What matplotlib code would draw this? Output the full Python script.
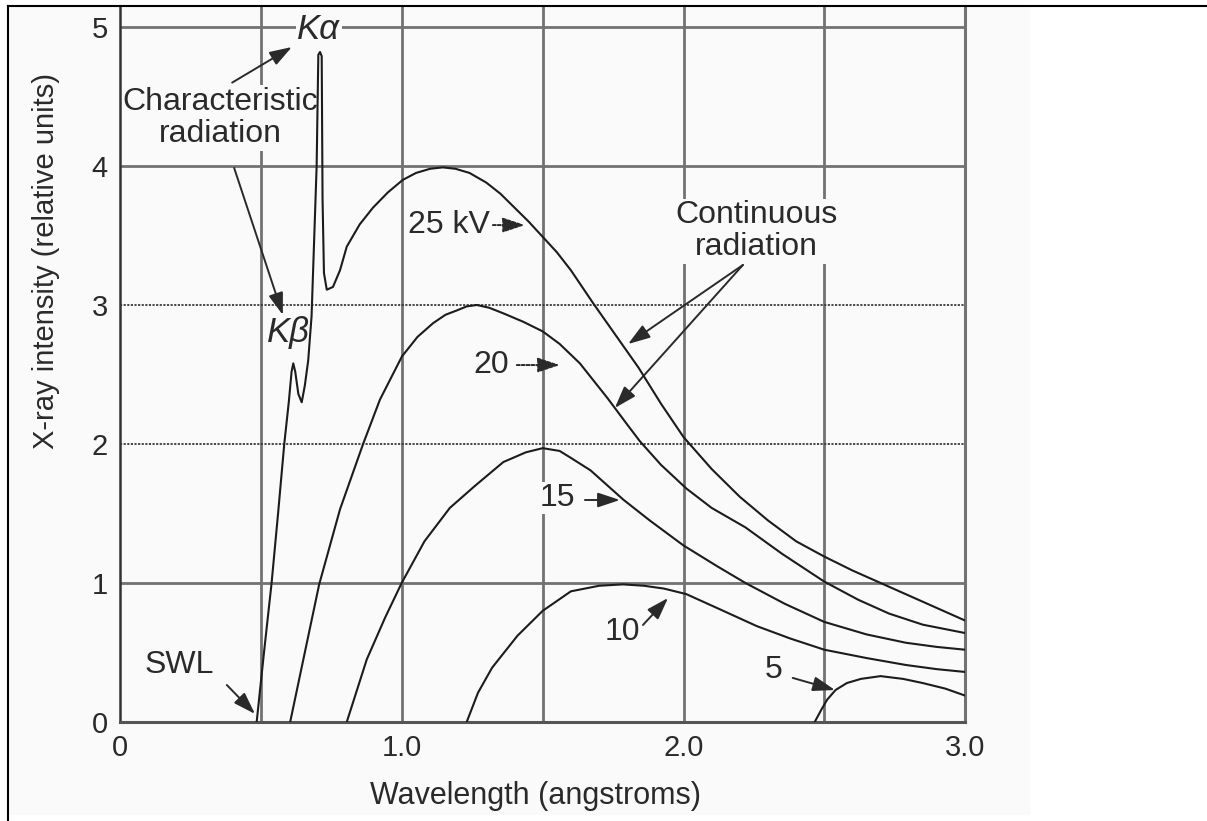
import matplotlib.pyplot as plt
from matplotlib.lines import Line2D
from matplotlib.patches import Rectangle

plt.rcParams['font.family'] = ['Liberation Sans', 'DejaVu Sans']

# wavelength (angstroms) / intensity, one pair per tube voltage
wl_25 = [0.484, 0.51, 0.537, 0.56, 0.582, 0.598, 0.608, 0.614, 0.621, 0.632, 0.644,
         0.655, 0.667, 0.679, 0.685, 0.697, 0.703, 0.709, 0.715, 0.718, 0.723, 0.733,
         0.755, 0.78, 0.804, 0.85, 0.897, 0.95, 1.003, 1.05, 1.10, 1.145, 1.19, 1.24,
         1.30, 1.35, 1.40, 1.45, 1.50, 1.55, 1.60, 1.68, 1.76, 1.84, 1.92, 2.0, 2.1,
         2.2, 2.3, 2.4, 2.5, 2.6, 2.7, 2.8, 2.9, 3.0]
i_25 = [0.0, 0.5, 1.0, 1.5, 2.0, 2.30, 2.52, 2.58, 2.52, 2.36, 2.30,
        2.42, 2.60, 2.92, 3.28, 4.0, 4.80, 4.82, 4.79, 3.76, 3.23, 3.11,
        3.13, 3.25, 3.42, 3.58, 3.70, 3.81, 3.90, 3.95, 3.98, 3.99, 3.98, 3.95,
        3.88, 3.80, 3.70, 3.60, 3.49, 3.38, 3.25, 3.01, 2.78, 2.55, 2.29, 2.05, 1.82,
        1.62, 1.45, 1.30, 1.19, 1.09, 1.0, 0.91, 0.82, 0.73]

wl_20 = [0.603, 0.655, 0.706, 0.78, 0.862, 0.922, 1.0, 1.055, 1.111, 1.155, 1.194, 1.23,
         1.266, 1.31, 1.36, 1.43, 1.50, 1.56, 1.632, 1.73, 1.80, 1.845, 1.92, 2.01, 2.1,
         2.22, 2.35, 2.5, 2.62, 2.73, 2.85, 3.0]
i_20 = [0.0, 0.5, 0.99, 1.53, 2.0, 2.32, 2.63, 2.77, 2.87, 2.93, 2.96, 2.99,
        3.0, 2.98, 2.94, 2.88, 2.81, 2.72, 2.58, 2.33, 2.14, 2.02, 1.85, 1.68, 1.54,
        1.40, 1.21, 1.01, 0.88, 0.78, 0.70, 0.64]

wl_15 = [0.804, 0.875, 0.94, 0.999, 1.08, 1.17, 1.26, 1.36, 1.44, 1.5, 1.56, 1.6, 1.67,
         1.786, 1.88, 2.0, 2.12, 2.22, 2.36, 2.5, 2.65, 2.79, 2.9, 3.0]
i_15 = [0.0, 0.45, 0.75, 1.0, 1.30, 1.54, 1.70, 1.87, 1.94, 1.97, 1.95, 1.90, 1.81,
        1.60, 1.45, 1.27, 1.12, 1.0, 0.85, 0.72, 0.63, 0.57, 0.54, 0.52]

wl_10 = [1.23, 1.27, 1.32, 1.41, 1.5, 1.60, 1.70, 1.785, 1.86, 1.93, 2.01, 2.13, 2.26,
         2.38, 2.5, 2.65, 2.79, 2.9, 3.0]
i_10 = [0.0, 0.21, 0.39, 0.62, 0.80, 0.94, 0.98, 0.99, 0.98, 0.96, 0.92, 0.81, 0.69,
        0.60, 0.52, 0.46, 0.41, 0.38, 0.36]

wl_5 = [2.466, 2.49, 2.51, 2.54, 2.58, 2.63, 2.70, 2.78, 2.85, 2.93, 3.0]
i_5 = [0.0, 0.09, 0.16, 0.23, 0.28, 0.31, 0.33, 0.31, 0.28, 0.24, 0.19]

curves = [(wl_25, i_25), (wl_20, i_20), (wl_15, i_15), (wl_10, i_10), (wl_5, i_5)]

x_ticks = [0, 0.5, 1.0, 1.5, 2.0, 2.5, 3.0]
x_labels = ['0', '', '1.0', '', '2.0', '', '3.0']
y_ticks = [0, 1, 2, 3, 4, 5]
solid_levels = [1, 4, 5]
dotted_levels = [2, 3]

ink = '#2a2a2a'
grey = '#727272'
bg = '#fafafa'

fig = plt.figure(figsize=(12.07, 8.21), dpi=100)
fig.patches.append(Rectangle((8 / 1207, 6 / 821), 1022 / 1207, 809 / 821,
                             transform=fig.transFigure, facecolor=bg,
                             edgecolor='none', zorder=-5))
fig.lines.append(Line2D([8 / 1207, 1], [1 - 6 / 821] * 2, transform=fig.transFigure,
                        color='black', lw=1.5))
fig.lines.append(Line2D([8 / 1207] * 2, [0, 1 - 6 / 821], transform=fig.transFigure,
                        color='black', lw=1.5))

ax = fig.add_axes([0.09975, 0.1206, 0.6998, 0.8709])
ax.set_facecolor('none')
ax.set_xlim(0, 3.0)
ax.set_ylim(0, 5.144)

for x in x_ticks[1:-1]:
    ax.axvline(x, color=grey, lw=2.0, zorder=1)
for y in solid_levels:
    ax.axhline(y, color=grey, lw=2.0, zorder=1)
for y in dotted_levels:
    ax.axhline(y, color='#3a3a3a', lw=1.3, ls=(0, (1.2, 0.8)), zorder=1)

for wl, inten in curves:
    ax.plot(wl, inten, color='#1c1c1c', lw=1.5, zorder=3)

ax.set_xticks(x_ticks)
ax.set_xticklabels(x_labels)
ax.set_yticks(y_ticks)
ax.tick_params(length=0, labelsize=21, labelcolor=ink)
ax.tick_params(axis='x', pad=9)
ax.tick_params(axis='y', pad=9)

ax.spines['top'].set_visible(False)
ax.spines['left'].set_color('#333333')
ax.spines['left'].set_linewidth(1.8)
ax.spines['bottom'].set_color('#555555')
ax.spines['bottom'].set_linewidth(2.2)
ax.spines['right'].set_color(grey)
ax.spines['right'].set_linewidth(2.2)

ax.set_xlabel('Wavelength (angstroms)', fontsize=22, color=ink, va='center')
ax.xaxis.set_label_coords(0.491, -0.1035)
ax.set_ylabel('X-ray intensity (relative units)', fontsize=21, color=ink, va='center')
ax.yaxis.set_label_coords(-0.088, 0.645)

box = dict(facecolor=bg, edgecolor='none', pad=1.0)
tkw = dict(fontsize=23, color=ink, zorder=2, bbox=box)

ax.text(0.354, 4.345, 'Characteristic\nradiation', ha='center', va='center',
        linespacing=1.12, **tkw)
ax.text(2.26, 3.53, 'Continuous\nradiation', ha='center', va='center',
        linespacing=1.08, **tkw)
ax.text(0.705, 4.98, 'Kα', ha='center', va='center', style='italic',
        fontsize=25, color=ink, zorder=2, bbox=box)
ax.text(0.598, 2.80, 'Kβ', ha='center', va='center', style='italic',
        fontsize=25, color=ink, zorder=2)
ax.text(1.021, 3.575, '25 kV', ha='left', va='center', **tkw)
ax.text(1.252, 2.57, '20', ha='left', va='center', **tkw)
ax.text(1.49, 1.61, '15', ha='left', va='center', **tkw)
ax.text(1.721, 0.647, '10', ha='left', va='center', **tkw)
ax.text(2.289, 0.374, '5', ha='left', va='center', **tkw)
ax.text(0.087, 0.41, 'SWL', ha='left', va='center', **tkw)

# (start, end, dotted shaft)
arrows = [
    ((0.397, 4.60), (0.609, 4.856), False),
    ((0.404, 3.986), (0.577, 2.928), False),
    ((1.323, 3.575), (1.437, 3.575), True),
    ((1.408, 2.568), (1.561, 2.568), True),
    ((1.650, 1.597), (1.774, 1.597), False),
    ((1.856, 0.698), (1.945, 0.892), False),
    ((2.388, 0.317), (2.538, 0.230), False),
    ((0.378, 0.266), (0.478, 0.058), False),
    ((2.211, 3.288), (1.803, 2.719), False),
    ((2.211, 3.288), (1.756, 2.259), False),
]
for start, end, dotted in arrows:
    ax.annotate('', xy=end, xytext=start, zorder=2,
                arrowprops=dict(arrowstyle='-|>,head_length=0.9,head_width=0.3',
                                mutation_scale=15, color='#2a2a2a', lw=1.4,
                                ls=(0, (1.5, 1)) if dotted else '-',
                                shrinkA=0, shrinkB=0))

fig.savefig('out.png', dpi=100)
